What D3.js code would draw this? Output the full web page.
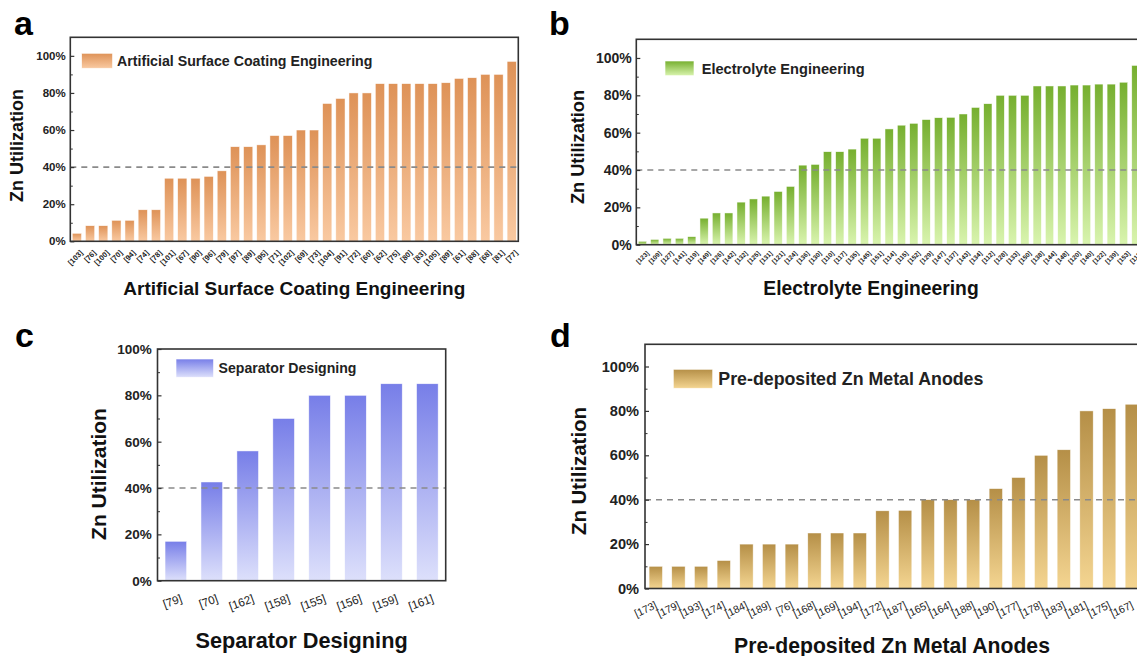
<!DOCTYPE html>
<html><head><meta charset="utf-8">
<script src="https://cdn.jsdelivr.net/npm/d3@7"></script>
<style>
html,body{margin:0;padding:0;background:#fff;}
svg{display:block;font-family:"Liberation Sans",Arial,Helvetica,sans-serif;}
</style>
</head><body>
<svg id="chart" width="1137" height="656"></svg>
<script>
// ---------------- DATA ----------------
const catsA = ["[103]","[76]","[100]","[70]","[94]","[74]","[78]","[101]","[67]","[90]","[96]","[79]","[97]","[89]","[95]","[71]","[102]","[69]","[73]","[104]","[91]","[72]","[60]","[62]","[75]","[80]","[83]","[105]","[89]","[61]","[88]","[68]","[81]","[77]"];
const valsA = [4.3,8.4,8.4,11.3,11.3,17,17,34,34,34,35,38,51,51,52,57,57,60,60,74.3,77,80,80,85,85,85,85,85,85.5,87.8,88.2,90,90,97];

const catsB = ["[123]","[109]","[127]","[141]","[119]","[149]","[126]","[142]","[132]","[125]","[131]","[121]","[124]","[136]","[130]","[110]","[117]","[135]","[145]","[151]","[114]","[115]","[152]","[129]","[147]","[137]","[143]","[134]","[112]","[128]","[133]","[150]","[138]","[144]","[148]","[120]","[140]","[122]","[139]","[153]","[113]"];
const valsB = [1.8,2.8,3.4,3.4,4.3,14.2,17,17,22.8,24.5,26,28.5,31.2,42.6,43,49.8,49.8,51.2,57,57,62,64,65,67,68,68.2,70,73.5,75.5,80,80,80,85,85,85,85.5,85.5,86,86,87,96];

const catsC = ["[79]","[70]","[162]","[158]","[155]","[156]","[159]","[161]"];
const valsC = [17,42.6,56,70,80,80,85,85];

const catsD = ["[173]","[179]","[193]","[174]","[184]","[189]","[76]","[168]","[169]","[194]","[172]","[187]","[165]","[164]","[188]","[190]","[177]","[178]","[183]","[181]","[175]","[167]"];
const valsD = [10,10,10,12.6,20,20,20,25,25,25,35,35.2,40,40,40,45,50,60,62.5,80,81,83];

const yTickVals = [0,20,40,60,80,100];
const yMinorVals = [10,30,50,70,90];
const threshold = 40;

const seriesNames = ["Artificial Surface Coating Engineering","Electrolyte Engineering","Separator Designing","Pre-deposited Zn Metal Anodes"];
const yTitle = "Zn Utilization";

// ---------------- DRAW ----------------
const svg = d3.select("#chart");
svg.append("rect").attr("width",1137).attr("height",656).attr("fill","#fff");
const defs = svg.append("defs");
function grad(id, top, bottom){
  const g = defs.append("linearGradient").attr("id",id).attr("x1",0).attr("y1",0).attr("x2",0).attr("y2",1);
  g.append("stop").attr("offset","0%").attr("stop-color",top);
  g.append("stop").attr("offset","100%").attr("stop-color",bottom);
}
grad("gA","#DE9257","#F9C9A1");
grad("gB","#76AF2F","#D9F4AE");
grad("gC","#777EE8","#DDE0FB");
grad("gD","#B58F47","#F4D591");

function panel(p){
  const n = p.cats.length;
  const x = d3.scaleBand().domain(d3.range(n)).range([p.left,p.right]).paddingInner(p.pi).paddingOuter(p.po);
  const y = d3.scaleLinear().domain([0,p.ymax]).range([p.bottom,p.top]);
  const g = svg.append("g");

  g.selectAll("rect.bar").data(p.vals).join("rect").attr("class","bar")
    .attr("x",(d,i)=>x(i)).attr("width",x.bandwidth())
    .attr("y",d=>y(d)).attr("height",d=>y(0)-y(d))
    .attr("fill",`url(#${p.grad})`)
    .attr("stroke","rgba(255,255,255,0.8)").attr("stroke-width",0.6);

  g.append("line").attr("x1",p.left).attr("x2",p.right)
    .attr("y1",y(threshold)).attr("y2",y(threshold))
    .attr("stroke","#8a8a8a").attr("stroke-width",1.6).attr("stroke-dasharray","6,5");

  g.append("rect").attr("x",p.left).attr("y",p.top).attr("width",p.right-p.left).attr("height",p.bottom-p.top)
    .attr("fill","none").attr("stroke","#333").attr("stroke-width",1.6);

  const ax = d3.axisLeft(y).tickValues(yTickVals).tickFormat(d=>d+"%").tickSizeInner(-4).tickSizeOuter(0).tickPadding(p.tickPad);
  const ag = g.append("g").attr("transform",`translate(${p.left},0)`).call(ax);
  ag.select(".domain").remove();
  ag.selectAll(".tick line").attr("stroke","#333").attr("stroke-width",1.2);
  ag.selectAll(".tick text").attr("font-size",p.tickFont).attr("font-weight","bold").attr("fill","#222")
    .attr("font-family",'"Liberation Sans",Arial,sans-serif');
  const mx = d3.axisLeft(y).tickValues(yMinorVals).tickFormat("").tickSizeInner(-2.5).tickSizeOuter(0);
  const mg = g.append("g").attr("transform",`translate(${p.left},0)`).call(mx);
  mg.select(".domain").remove();
  mg.selectAll(".tick line").attr("stroke","#333").attr("stroke-width",1);

  g.selectAll("text.xl").data(p.cats).join("text").attr("class","xl")
    .attr("transform",(d,i)=>`translate(${x(i)+x.bandwidth()/2+p.lx},${p.bottom+p.ly}) rotate(${p.angle})`)
    .attr("text-anchor","end").attr("font-size",p.xFont).attr("font-weight",p.xWeight).attr("fill","#222")
    .text(d=>d);

  g.append("text").attr("transform",`translate(${p.ytX},${p.ytY}) rotate(-90)`)
    .attr("text-anchor","middle").attr("font-size",p.ytFont).attr("font-weight","bold").attr("fill","#111")
    .text(yTitle);

  g.append("text").attr("x",p.xtX).attr("y",p.xtY).attr("text-anchor","middle")
    .attr("font-size",p.xtFont).attr("font-weight","bold").attr("fill","#111").text(p.name);

  g.append("rect").attr("x",p.lgX).attr("y",p.lgY).attr("width",p.lgW).attr("height",p.lgH)
    .attr("fill",`url(#${p.grad})`).attr("stroke","rgba(255,255,255,0.8)").attr("stroke-width",0.8);
  g.append("text").attr("x",p.lgTX).attr("y",p.lgTY).attr("font-size",p.lgFont).attr("font-weight","bold")
    .attr("fill","#222").text(p.name);

  g.append("text").attr("x",p.letX).attr("y",p.letY).attr("font-size",34).attr("font-weight","bold")
    .attr("fill","#000").text(p.letter);
}

panel({cats:catsA, vals:valsA, name:seriesNames[0], grad:"gA", letter:"a",
  left:70.3, right:518.3, top:37.3, bottom:241.3, ymax:110, pi:0.3, po:0.15,
  tickFont:11.5, tickPad:4.6, xFont:7.5, xWeight:"bold", angle:-45, lx:6.5, ly:12,
  ytX:23, ytY:145.5, ytFont:18, xtX:294.3, xtY:295, xtFont:19,
  lgX:81.6, lgY:53.3, lgW:31, lgH:15, lgTX:117, lgTY:65.8, lgFont:14.2, letX:14, letY:35});

panel({cats:catsB, vals:valsB, name:seriesNames[1], grad:"gB", letter:"b",
  left:636.3, right:1142, top:39.3, bottom:244.7, ymax:110, pi:0.33, po:0.16,
  tickFont:14, tickPad:4.6, xFont:6.4, xWeight:"bold", angle:-45, lx:7, ly:9,
  ytX:584, ytY:147, ytFont:18.2, xtX:871, xtY:295, xtFont:19.3,
  lgX:665, lgY:61, lgW:29, lgH:14.7, lgTX:701.7, lgTY:73.5, lgFont:14.6, letX:549, letY:35});

panel({cats:catsC, vals:valsC, name:seriesNames[2], grad:"gC", letter:"c",
  left:157.5, right:445.7, top:349, bottom:580.7, ymax:100, pi:0.4, po:0.21,
  tickFont:13.5, tickPad:5.7, xFont:11.5, xWeight:"normal", angle:-20, lx:7, ly:21,
  ytX:106, ytY:474, ytFont:21, xtX:301.6, xtY:648, xtFont:21.7,
  lgX:176, lgY:359, lgW:37.6, lgH:18.3, lgTX:218.6, lgTY:373, lgFont:14.1, letX:15, letY:346.7});

panel({cats:catsD, vals:valsD, name:seriesNames[3], grad:"gD", letter:"d",
  left:645, right:1142.6, top:344.3, bottom:588.5, ymax:110, pi:0.41, po:0.18,
  tickFont:14.6, tickPad:6, xFont:10.5, xWeight:"normal", angle:-25, lx:2, ly:19,
  ytX:586, ytY:471, ytFont:20.4, xtX:892, xtY:653, xtFont:21.2,
  lgX:673.3, lgY:369.3, lgW:39.4, lgH:19, lgTX:718.3, lgTY:385, lgFont:17.8, letX:550, letY:347});
</script>
</body></html>
